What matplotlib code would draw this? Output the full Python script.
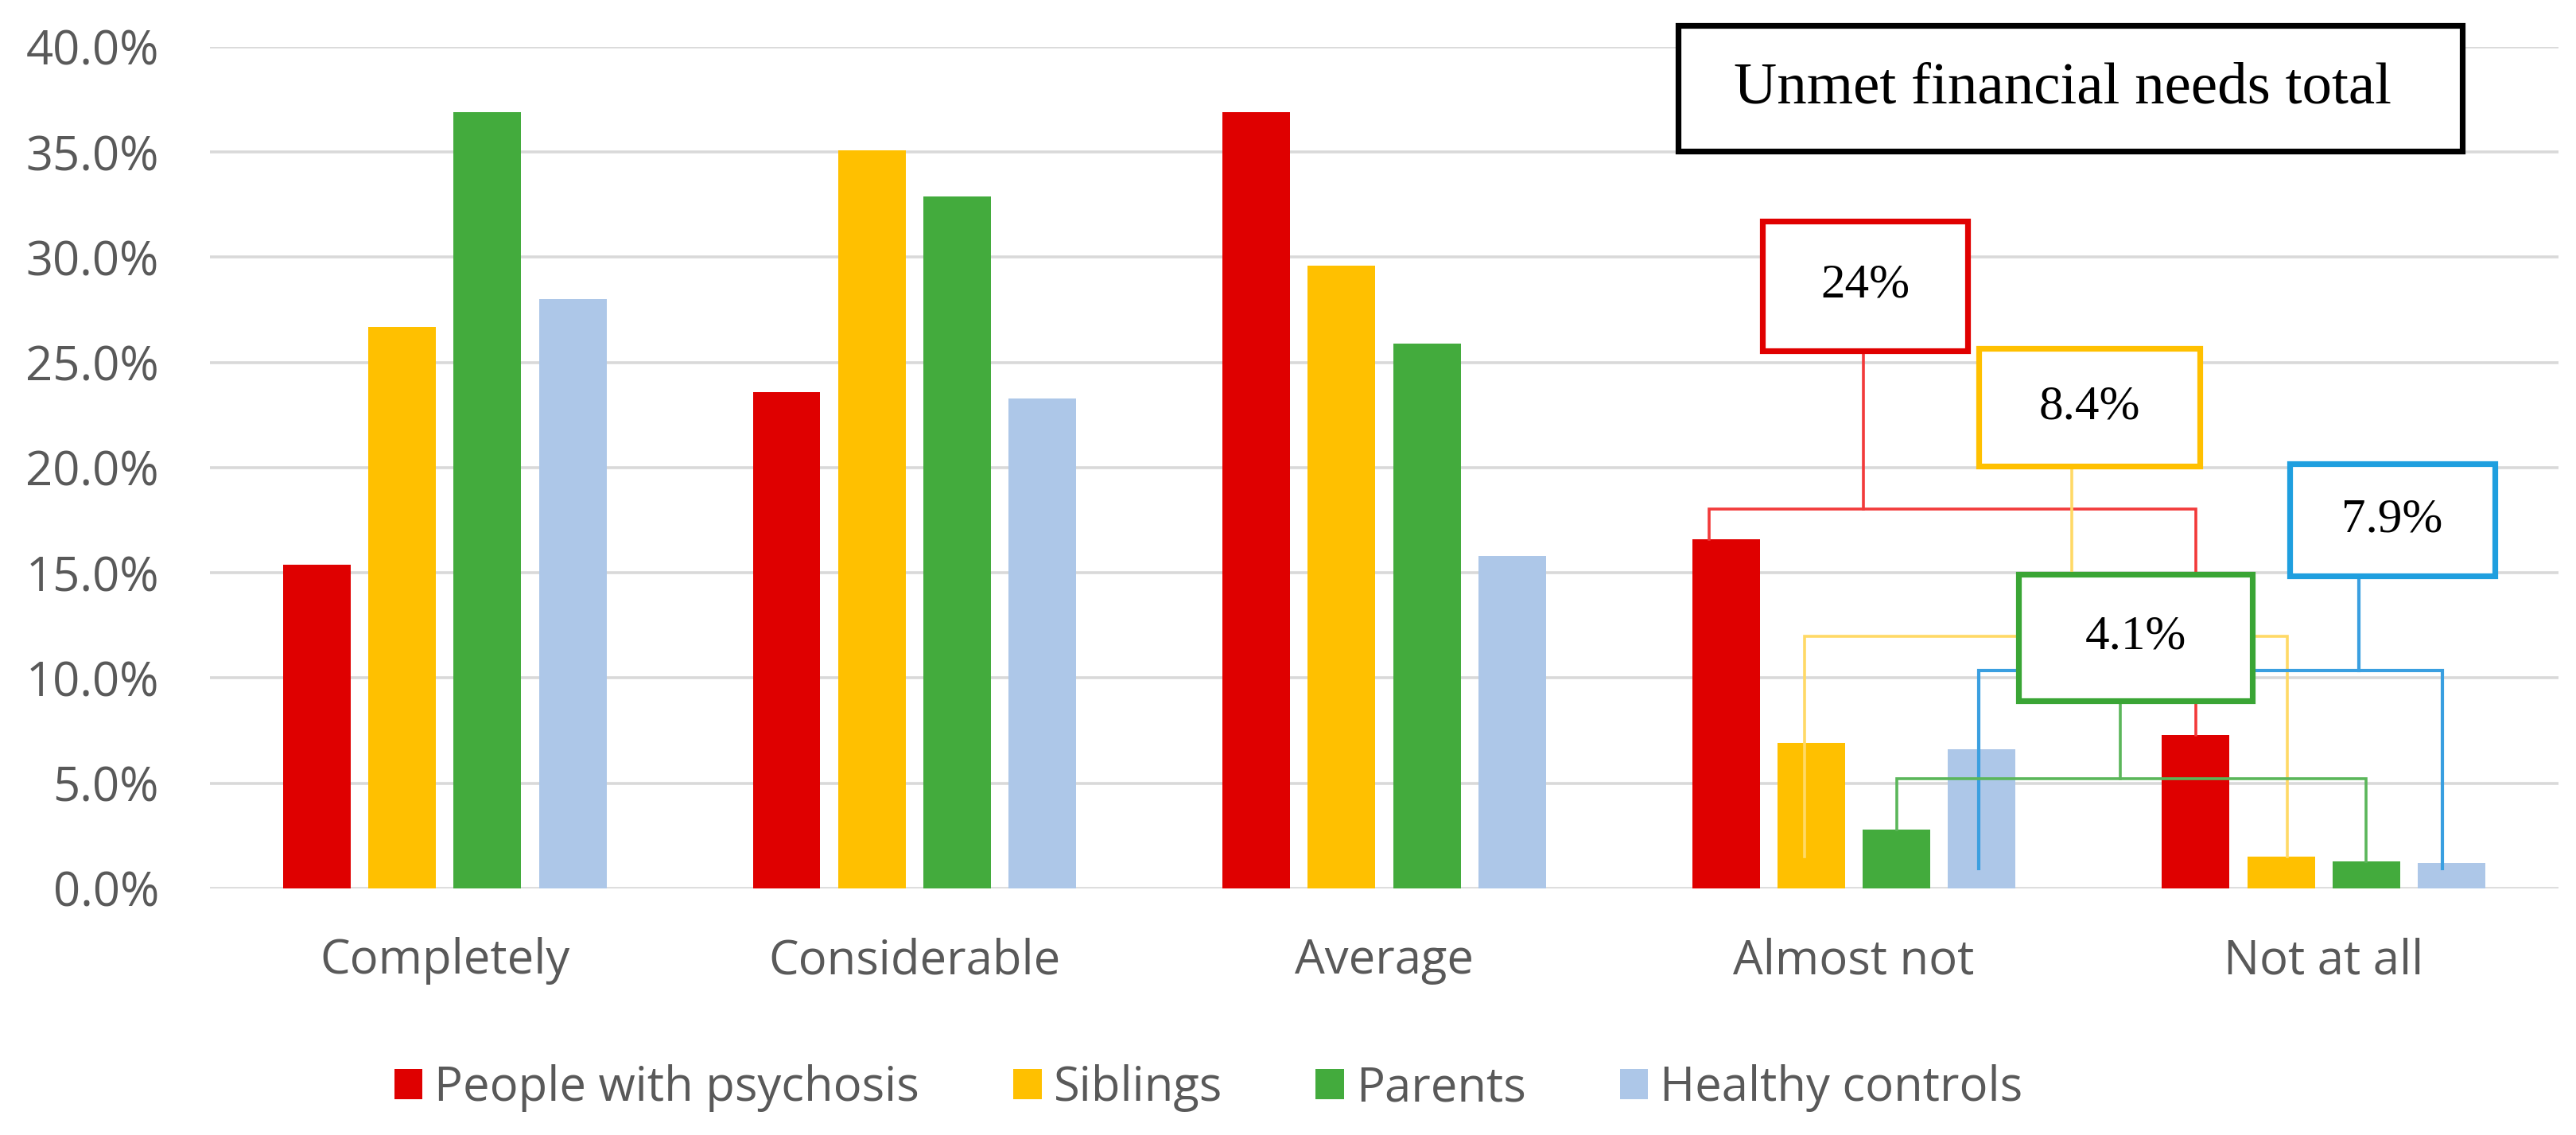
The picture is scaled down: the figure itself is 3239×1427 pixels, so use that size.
import numpy as np
import matplotlib
matplotlib.use("Agg")
import matplotlib.pyplot as plt
from matplotlib.patches import Rectangle, Patch

categories = ["Completely", "Considerable", "Average", "Almost not", "Not at all"]
series_names = ["People with psychosis", "Siblings", "Parents", "Healthy controls"]
psychosis = [15.4, 23.6, 36.9, 16.6, 7.3]
siblings = [26.7, 35.1, 29.6, 6.9, 1.5]
parents = [36.9, 32.9, 25.9, 2.8, 1.3]
controls = [28.0, 23.3, 15.8, 6.6, 1.2]
yticks = [0, 5, 10, 15, 20, 25, 30, 35, 40]

# totals of unmet needs (Almost not + Not at all), per group
unmet_labels = ["24%", "8.4%", "7.9%", "4.1%"]
title_text = "Unmet financial needs total"

bar_colors = ["#DF0000", "#FFC000", "#43AB3D", "#ADC7E8"]
box_colors = ["#E00000", "#FFC000", "#1F9FDF", "#3AA535"]
line_colors = ["#F23A3A", "#FFD966", "#3A9FE0", "#5BB65A"]

plt.rcParams['font.family'] = ['Open Sans', 'DejaVu Sans']

fig = plt.figure(figsize=(16.195, 7.135), dpi=200)
ax = fig.add_axes([0.0815, 0.2173, 0.9117, 0.7414])

x = np.arange(len(categories))
step = 0.1816
width = 0.1438
data = [psychosis, siblings, parents, controls]
for j, vals in enumerate(data):
    ax.bar(x + (j - 1.5) * step, vals, width=width, color=bar_colors[j],
           zorder=2, label=series_names[j])

ax.set_xlim(-0.5, len(categories) - 0.5)
ax.set_ylim(0, 40)
ax.set_yticks(yticks)
ax.set_yticklabels([f"{v:.1f}%" for v in yticks])
ax.set_xticks(x)
ax.set_xticklabels(categories)
ax.tick_params(axis='both', length=0, labelsize=21.5, labelcolor='#595959')
ax.tick_params(axis='y', pad=23)
ax.tick_params(axis='x', pad=22)
ax.grid(axis='y', color='#D9D9D9', linewidth=1.3, zorder=0)
ax.set_axisbelow(True)
for s in ax.spines.values():
    s.set_visible(False)


def bx(i, j):
    # centre of bar j in category i
    return i + (j - 1.5) * step


def box(x0, x1, y0, y1, color, text, size, lw):
    ax.add_patch(Rectangle((x0, y0), x1 - x0, y1 - y0, facecolor='white',
                           edgecolor=color, linewidth=lw, zorder=6, clip_on=False))
    ax.text((x0 + x1) / 2, (y0 + y1) / 2, text, ha='center', va='center',
            fontsize=size, family=['Liberation Serif', 'DejaVu Serif'],
            color='black', zorder=7, clip_on=False)


# bracket connectors: stem x, horizontal level, left/right feet and end heights
i1, i2 = 3, 4
connectors = [
    (3.02, 18.05, bx(i1, 0) - 0.036, psychosis[i1], bx(i2, 0), psychosis[i2], 25.6),
    (3.463, 12.0, bx(i1, 1) - 0.015, siblings[i2], bx(i2, 1) + 0.013, siblings[i2], 20.1),
    (4.075, 10.35, bx(i1, 3) - 0.007, 0.95, bx(i2, 3) - 0.02, 0.95, 14.9),
    (3.567, 5.2, bx(i1, 2), parents[i1], bx(i2, 2), parents[i2], 8.95),
]
for j, (sx, yh, lx, ly, rx, ry, ytop) in enumerate(connectors):
    lw = 1.3 if j != 2 else 1.5
    ax.plot([sx, sx], [ytop, yh], color=line_colors[j], lw=lw, zorder=4)
    ax.plot([lx, lx, rx, rx], [ly, yh, yh, ry], color=line_colors[j], lw=lw,
            zorder=4, solid_joinstyle='miter')

box(2.805, 3.242, 25.57, 31.73, box_colors[0], unmet_labels[0], 22, 2.6)
box(3.266, 3.736, 20.08, 25.68, box_colors[1], unmet_labels[1], 22, 2.6)
box(3.927, 4.364, 14.86, 20.2, box_colors[2], unmet_labels[2], 22, 2.6)
box(3.350, 3.849, 8.93, 14.94, box_colors[3], unmet_labels[3], 22, 2.6)

# title box
ax.add_patch(Rectangle((2.626, 35.06), 4.296 - 2.626, 41.02 - 35.06,
                       facecolor='white', edgecolor='black', linewidth=2.6,
                       zorder=6, clip_on=False))
ax.text(3.445, 38.0, title_text, ha='center', va='center', fontsize=27,
        family=['Liberation Serif', 'DejaVu Serif'], zorder=7, clip_on=False)

handles = [Patch(facecolor=c, edgecolor='none') for c in bar_colors]
fig.legend(handles, series_names, loc='center left',
           bbox_to_anchor=(0.153, 0.0413), ncol=4, frameon=False,
           fontsize=21.5, labelcolor='#595959', handlelength=0.6,
           handleheight=0.6, handletextpad=0.25, columnspacing=1.97,
           borderpad=0, borderaxespad=0)

fig.savefig("out.png", dpi=200)
